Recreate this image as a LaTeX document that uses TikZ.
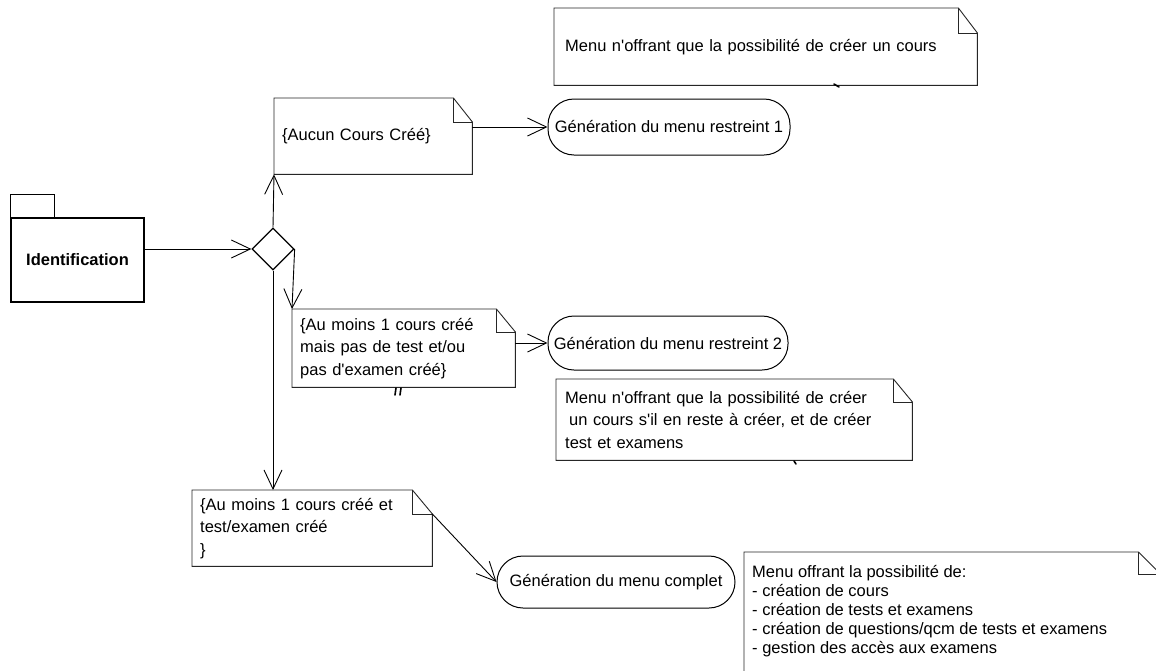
\documentclass[tikz,border=0pt]{standalone}
\usepackage{fontspec}
\newfontfamily\arialfont{Liberation Sans}
\usetikzlibrary{arrows.meta,calc,shapes.geometric}

% folded-corner frame around a note node: #1 node, #2 fold width, #3 fold height
\newcommand\dogear[3]{%
  \draw[noteline] ($(#1.north east)+(-#2,0)$) -- ($(#1.north east)+(0,#3)$)
     -- (#1.south east) -- (#1.south west) -- (#1.north west) -- cycle;
  \draw[noteline] ($(#1.north east)+(-#2,0)$) |- ($(#1.north east)+(0,#3)$);}

\begin{document}
\begin{tikzpicture}[x=1pt,y=-1pt,
  every node/.style={font=\arialfont\fontsize{16.5}{22.5}\selectfont},
  noteline/.style={line width=0.9pt, draw=black!85},
  flow/.style={line width=0.9pt, -{Straight Barb[length=19pt,width=18pt,line width=0.9pt]}},
  notebox/.style={draw=none, inner xsep=8pt, inner ysep=0pt, align=left},
  act/.style={draw, line width=1pt, rounded corners=26pt, inner sep=0pt},
  pkg/.style={draw, line width=1.1pt, inner sep=0pt},
  choice/.style={draw, diamond, line width=1.3pt, inner sep=0pt, minimum width=42pt, minimum height=42pt},
  stub/.style={line width=1.6pt, line cap=round}
]
\clip (0,0) rectangle (1156,670);
\fill[white] (0,0) rectangle (1156,670);

% package
\node[pkg, minimum width=133pt, minimum height=84pt, font=\arialfont\bfseries\fontsize{16.5}{20}\selectfont] (ident) at (77.5,260) {Identification};
\draw[line width=1.1pt] (ident.north west) -- ++(0,-23) -- ++(44,0) -- ++(0,23);

% decision
\node[choice] (dec) at (273,249) {};

% guard notes
\node[notebox, text width=182pt, minimum height=76pt, anchor=north west] (n1) at (274,98) {\{Aucun Cours Créé\}};
\dogear{n1}{19}{24}
\node[notebox, text width=207pt, minimum height=78pt, anchor=north west] (n2) at (292,309) {\{Au moins 1 cours créé\\mais pas de test et/ou\\pas d'examen créé\}};
\dogear{n2}{19}{23}
\node[notebox, text width=224pt, minimum height=76pt, anchor=north west] (n4) at (192,490) {\{Au moins 1 cours créé et\\test/examen créé\\\}};
\dogear{n4}{20}{24}

% activities
\node[act, minimum width=242pt, minimum height=56pt] (r1) at (669,127) {Génération du menu restreint 1};
\node[act, minimum width=240pt, minimum height=54pt] (r2) at (668,343) {Génération du menu restreint 2};
\node[act, minimum width=238pt, minimum height=52pt] (r3) at (616,582) {Génération du menu complet};

% comment notes
\node[notebox, inner xsep=11pt, text width=401pt, minimum height=77pt, anchor=north west] (ntop) at (554,8) {Menu n'offrant que la possibilité de créer un cours};
\dogear{ntop}{19}{25}
\node[notebox, inner xsep=9pt, text width=338pt, minimum height=81pt, anchor=north west] (n3) at (556,379) {Menu n'offrant que la possibilité de créer\\\hspace*{4pt}un cours s'il en reste à créer, et de créer\\test et examens};
\dogear{n3}{19}{23}
\node[notebox, text width=400pt, minimum height=148pt, anchor=north west] (n5) at (744,552) {};
\dogear{n5}{22}{22}
\node[anchor=north west, align=left, inner sep=0pt, font=\arialfont\fontsize{16.5}{19}\selectfont] (n5txt) at (752,565)
  {Menu offrant la possibilité de:\\- création de cours\\- création de tests et examens\\- création de questions/qcm de tests et examens\\- gestion des accès aux examens};

% anchor stubs under the comment notes
\draw[stub] (834,84) -- (839,87);
\draw[stub] (396,388) -- (395,395);
\draw[stub] (401,388) -- (400,395);
\draw[stub] (794,461) -- (796,464);

% flows
\draw[flow] (dec.west -| ident.east) -- (dec.west);
\draw[flow] (dec.north) -- (n1.south west);
\draw[flow] (dec.east) -- (n2.north west);
\draw[flow] (dec.south) -- (dec.south |- n4.north);
\draw[flow] (r1.west -| n1.east) -- (r1.west);
\draw[flow] (r2.west -| n2.east) -- (r2.west);
\draw[flow] ($(n4.north east)+(0,24)$) -- (r3.west);
\end{tikzpicture}
\end{document}
